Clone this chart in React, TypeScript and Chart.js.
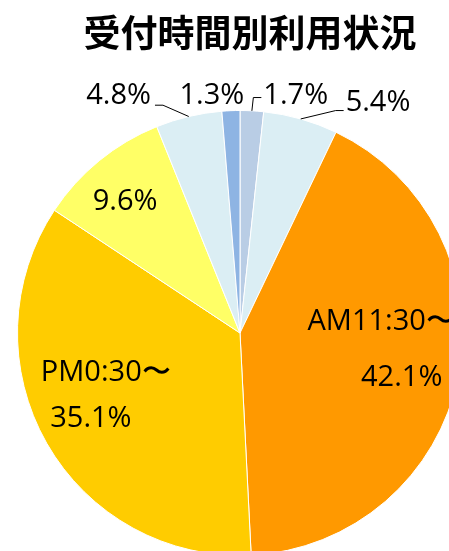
import React, { useEffect, useRef } from "react";
import { Chart, registerables } from "chart.js";

Chart.register(...registerables);

const TITLE = "受付時間別利用状況";
const CATEGORIES = ["", "", "AM11:30〜", "PM0:30〜", "", "", ""];
const VALUES = [1.7, 5.4, 42.1, 35.1, 9.6, 4.8, 1.3];
const COLORS = ["#B9CDE5", "#DBEEF4", "#FF9900", "#FFCC00", "#FFFF66", "#DBEEF4", "#8EB4E3"];

// label placement in polar terms: [fraction of radius, degrees clockwise from 12 o'clock]
const NAME_POS: ([number, number] | null)[] = [null, null, [0.637, 84.75], [0.627, 254.2], null, null, null];
const VALUE_POS: [number, number][] = [
  [1.105, 13.1],
  [1.215, 30.7],
  [0.752, 104.9],
  [0.77, 240.5],
  [0.79, 319.2],
  [1.206, 333.1],
  [1.083, 353.3],
];
// vertical offset of the leader line's horizontal end relative to label centre (null = no leader)
const LEADER_DY: (number | null)[] = [4, 10, null, null, null, 11.5, null];

const LABEL_FONT_SIZE = 29;

const labelPlugin = {
  id: "sliceLabels",
  afterDraw(chart: any) {
    const ctx: CanvasRenderingContext2D = chart.ctx;
    const meta = chart.getDatasetMeta(0);
    ctx.save();
    // title
    ctx.fillStyle = "#000";
    ctx.font = "bold 37px 'Noto Sans CJK JP'";
    ctx.textAlign = "center";
    ctx.textBaseline = "middle";
    ctx.fillText(TITLE, 250, 33);

    ctx.font = `${LABEL_FONT_SIZE}px 'Open Sans'`;
    ctx.textBaseline = "alphabetic";
    const baseShift = LABEL_FONT_SIZE * 0.345;
    meta.data.forEach((arc: any, i: number) => {
      const { x, y, outerRadius, startAngle, endAngle } = arc.getProps(
        ["x", "y", "outerRadius", "startAngle", "endAngle"],
        true
      );
      const pt = (pos: [number, number]) => {
        const a = ((pos[1] - 90) * Math.PI) / 180;
        return [x + pos[0] * outerRadius * Math.cos(a), y + pos[0] * outerRadius * Math.sin(a)];
      };
      const valueText = VALUES[i].toFixed(1) + "%";
      const namePos = NAME_POS[i];
      if (namePos && CATEGORIES[i]) {
        const [nx, ny] = pt(namePos);
        ctx.fillText(CATEGORIES[i], nx, ny + baseShift);
      }
      const [vx, vy] = pt(VALUE_POS[i]);
      ctx.fillText(valueText, vx, vy + baseShift);

      const dy = LEADER_DY[i];
      if (dy !== null) {
        const mid = (startAngle + endAngle) / 2;
        const sx = x + outerRadius * Math.cos(mid);
        const sy = y + outerRadius * Math.sin(mid);
        const w = ctx.measureText(valueText).width;
        const left = vx < x;
        const ex = left ? vx + w / 2 + 4 : vx - w / 2 - 2;
        const bx = left ? ex + 8 : ex - 8;
        const ey = vy + dy;
        ctx.beginPath();
        ctx.strokeStyle = "#000";
        ctx.lineWidth = 1;
        ctx.moveTo(sx, sy);
        ctx.lineTo(bx, ey);
        ctx.lineTo(ex, ey);
        ctx.stroke();
      }
    });
    ctx.restore();
  },
};

export default function App() {
  const ref = useRef<HTMLCanvasElement>(null);
  useEffect(() => {
    const chart = new Chart(ref.current as HTMLCanvasElement, {
      type: "pie",
      data: {
        labels: CATEGORIES,
        datasets: [
          {
            data: VALUES,
            backgroundColor: COLORS,
            borderColor: "#ffffff",
            borderWidth: 1,
          },
        ],
      },
      options: {
        responsive: false,
        animation: false,
        devicePixelRatio: 1,
        events: [],
        layout: { padding: { left: 17, top: 110, right: 17, bottom: 4 } },
        plugins: {
          legend: { display: false },
          tooltip: { enabled: false },
          title: { display: false },
        },
      },
      plugins: [labelPlugin],
    } as any);
    return () => chart.destroy();
  }, []);
  return (
    <div
      style={{
        position: "fixed",
        left: 0,
        top: 0,
        width: 449,
        height: 551,
        overflow: "hidden",
        background: "#fff",
      }}
    >
      <canvas ref={ref} width={480} height={560} style={{ display: "block" }} />
    </div>
  );
}
